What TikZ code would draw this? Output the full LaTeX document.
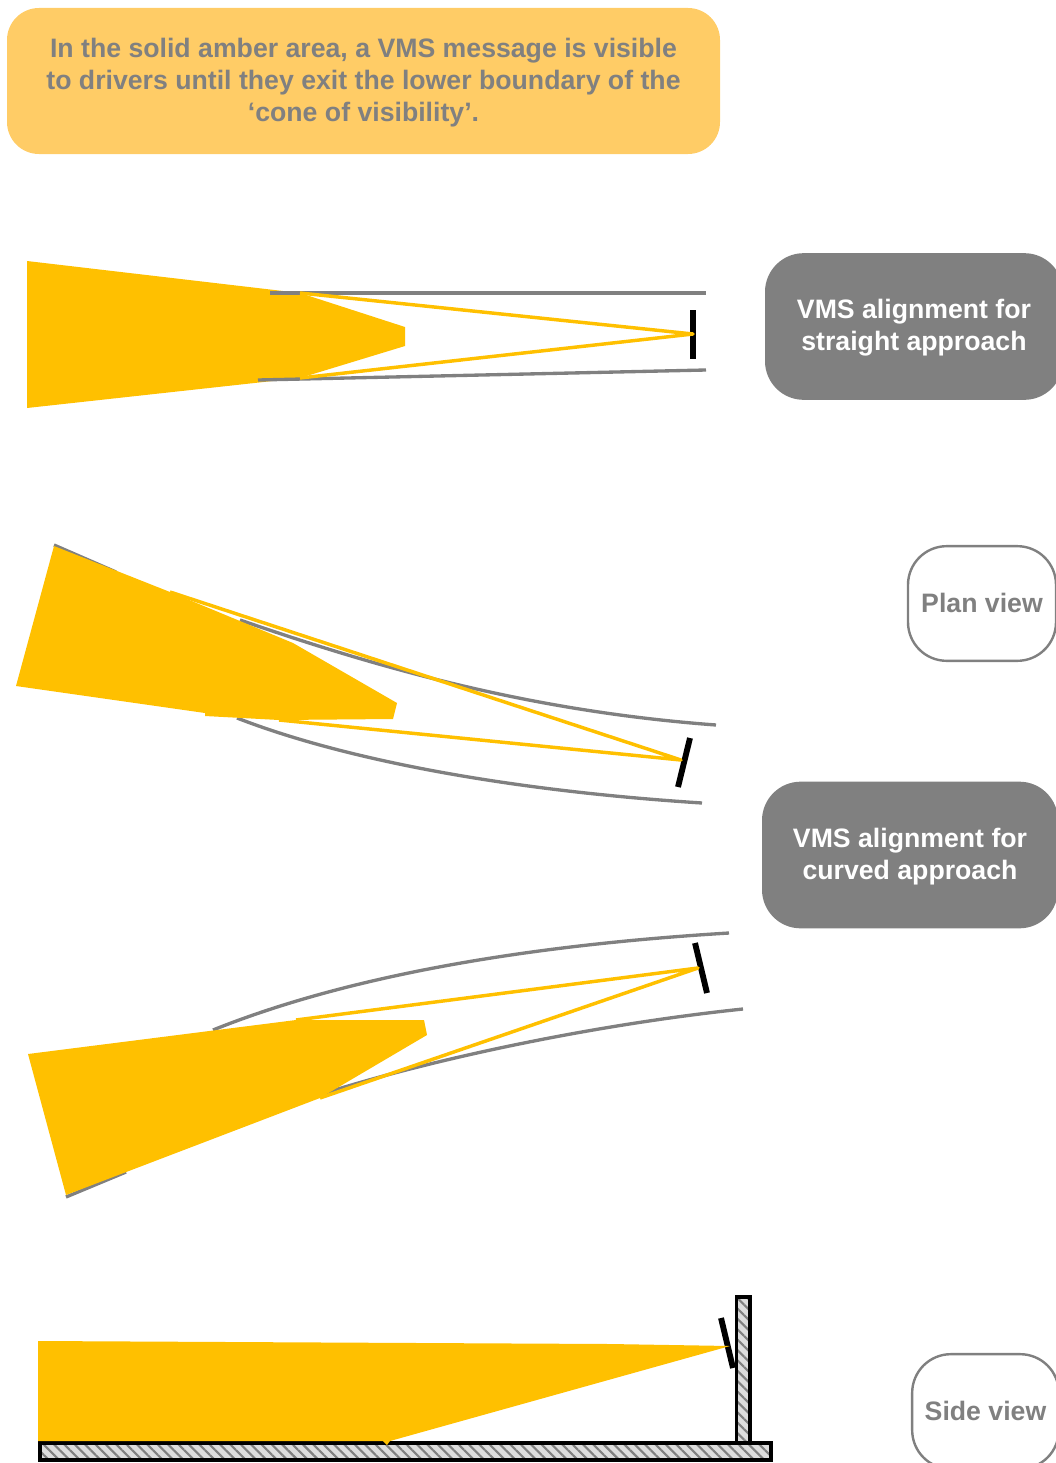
\documentclass[tikz,border=0pt]{standalone}
\usepackage{fontspec}
\usepackage{xcolor}
\usepackage{tikz}
\usetikzlibrary{patterns.meta}
\setmainfont{Liberation Sans}
\definecolor{amber}{HTML}{FFC000}
\definecolor{paleamber}{HTML}{FFCC66}
\definecolor{midgrey}{HTML}{808080}
\definecolor{hatchgrey}{HTML}{DDDDDD}

\begin{document}
\begin{tikzpicture}[
    x=0.75pt, y=-0.75pt,
    bubble/.style={rounded corners=24pt, inner sep=0pt, align=center,
                   font=\fontsize{20}{24}\selectfont\bfseries},
    note/.style={bubble, fill=paleamber, text=midgrey},
    caption/.style={bubble, fill=midgrey, text=white, rounded corners=29pt},
    viewtag/.style={bubble, draw=midgrey, line width=1.8pt, fill=white, text=midgrey,
                    rounded corners=29pt},
    road/.style={draw=midgrey, line width=2.5pt},
    cone/.style={fill=amber},
    ray/.style={draw=amber, line width=2.6pt, line join=round},
    sign/.style={draw=black, line width=4.4pt},
    wall/.style={draw=black, line width=2.8pt, preaction={fill=hatchgrey},
                 pattern={Lines[angle=-45, distance=5.5pt, line width=1.6pt]},
                 pattern color=midgrey}
]
\useasboundingbox (0,0) rectangle (1056,1463);

\node[note, minimum width=534.75pt, minimum height=109.5pt] (notebox) at (363.5,81)
    {\rule{0pt}{17.6pt}In the solid amber area, a VMS message is visible\\
     to drivers until they exit the lower boundary of the\\
     ‘cone of visibility’.};
\node[caption, minimum width=223.5pt, minimum height=110pt] (straightcap) at (914,326.5)
    {\rule{0pt}{16.1pt}VMS alignment for\\straight approach};
\node[viewtag, minimum width=111pt, minimum height=86pt] (planview) at (982,603.5)
    {\raisebox{0.75pt}{Plan view}};
\node[caption, minimum width=222pt, minimum height=110pt] (curvedcap) at (910,855)
    {\rule{0pt}{17.6pt}VMS alignment for\\curved approach};
\node[viewtag, minimum width=110pt, minimum height=86pt] (sideview) at (985.5,1411.5)
    {\raisebox{0.75pt}{Side view}};

% straight approach
\coordinate (straightsign) at (693,334);
\coordinate (straighttop) at (300,293);
\coordinate (straightlow) at (300,378);
\fill[cone] (27,261) -- (straighttop) -- (405,327) -- (405,346) -- (straightlow) -- (27,408) -- cycle;
\draw[road] (270,293) -- (706,293);
\draw[road] (258,380) -- (706,370);
\draw[sign] (693,310) -- (693,359);
\draw[ray] (straighttop) -- (straightsign) -- (straightlow);

% curved approach, bending right
\coordinate (rightsign) at (681,760);
\coordinate (righttop) at (170,592);
\coordinate (rightlow) at (279,720);
\draw[road] (54,545) -- (116,572);
\draw[road] (240,620) .. controls (390,672) and (540,712) .. (716,725);
\draw[road] (237,718) .. controls (340,758) and (500,790) .. (702,803);
\fill[cone] (54,546) -- (righttop) -- (293,643) -- (397,703) -- (393,719) -- (rightlow)
    -- (205,716) -- (205,713) -- (16,686) -- cycle;
\draw[sign] (690,738) -- (678,787);
\draw[ray] (righttop) -- (rightsign) -- (rightlow);

% curved approach, bending left
\coordinate (leftsign) at (698,968);
\coordinate (lefttop) at (296,1020);
\coordinate (leftlow) at (320,1098);
\draw[road] (213,1030) .. controls (350,975) and (530,945) .. (729,933);
\draw[road] (325,1093) .. controls (430,1060) and (590,1025) .. (743,1009);
\draw[road] (66,1197) -- (126,1172);
\fill[cone] (28,1054) -- (lefttop) -- (424,1020) -- (427,1035) -- (leftlow) -- (66,1195) -- cycle;
\draw[sign] (695,943) -- (707,993);
\draw[ray] (lefttop) -- (leftsign) -- (leftlow);

% side view
\coordinate (sidesign) at (730,1346);
\draw[wall] (736.5,1297) rectangle (750,1443);
\draw[wall] (40,1443) rectangle (771,1460);
\draw[sign] (721,1318) -- (733,1368);
\fill[cone] (38,1341) -- (610,1344) -- (sidesign) -- (390,1441) -- (387,1445) -- (383,1441)
    -- (38,1441) -- cycle;
\end{tikzpicture}
\end{document}
